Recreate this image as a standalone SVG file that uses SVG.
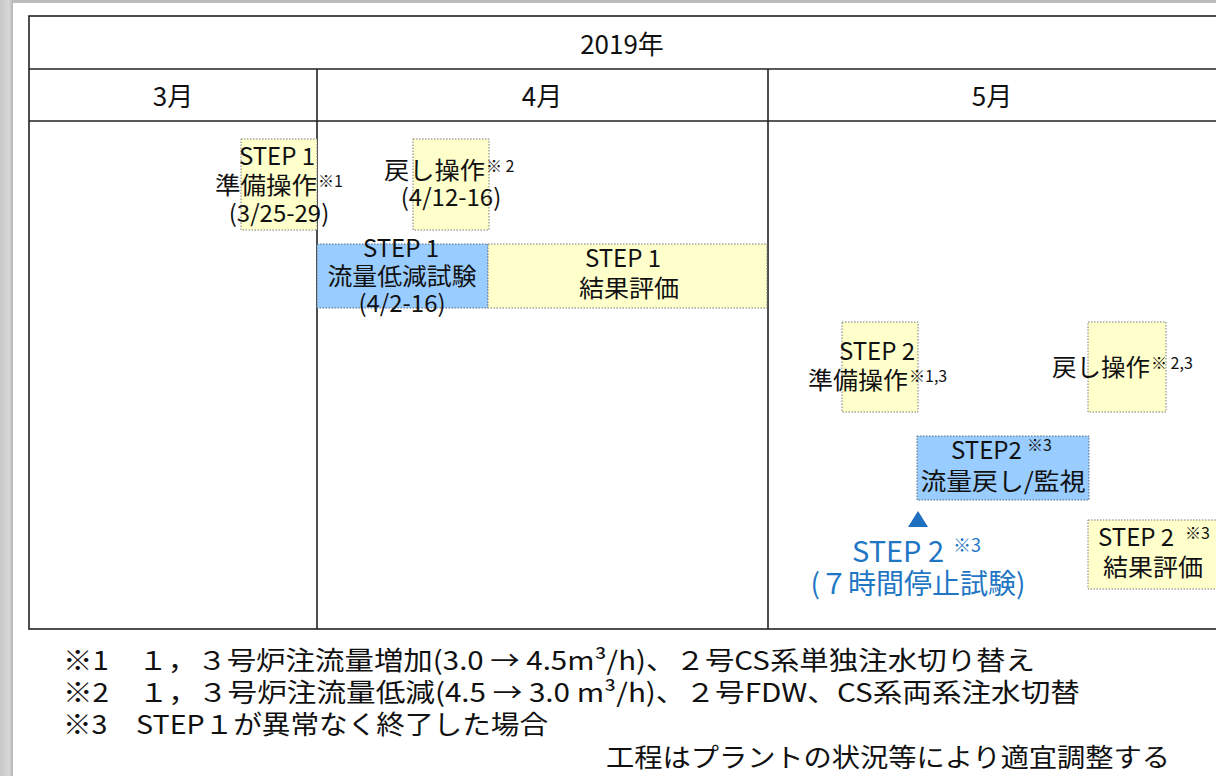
<svg xmlns="http://www.w3.org/2000/svg" width="1216" height="776" viewBox="0 0 1216 776">
<defs>
<linearGradient id="lg" x1="0" y1="0" x2="1" y2="0">
<stop offset="0" stop-color="#c8c8c8"/>
<stop offset="0.7" stop-color="#d8d8d8"/>
<stop offset="1" stop-color="#b4b4b4"/>
</linearGradient>
<style>
text{font-family:"Noto Sans CJK JP","Noto Sans",sans-serif;fill:#111}
.t{font-size:24px}
.h{font-size:26px}
.s{font-size:16px}
.f{font-size:26px}
.b{fill:#1f77c4}
.yel{fill:#ffffcc;stroke:#7a7a7a;stroke-width:1;stroke-dasharray:1.5 1.5}
.blu{fill:#99ccff;stroke:#5a6a80;stroke-width:1;stroke-dasharray:1.5 1.5}
.ln{stroke:#222;stroke-width:1.6;fill:none}
</style>
</defs>
<rect x="0" y="0" width="1216" height="776" fill="#fff"/>
<rect x="0" y="0" width="1216" height="3" fill="#bdbdbd"/>
<rect x="0" y="0" width="13" height="776" fill="url(#lg)"/>

<g id="table">
<rect class="ln" x="29" y="16" width="1200" height="613"/>
<line class="ln" x1="29" y1="69" x2="1229" y2="69"/>
<line class="ln" x1="29" y1="121" x2="1229" y2="121"/>
<line class="ln" x1="317" y1="69" x2="317" y2="629"/>
<line class="ln" x1="768" y1="69" x2="768" y2="629"/>
<text class="h" x="622" y="54" text-anchor="middle">2019年</text>
<text class="h" x="173" y="106" text-anchor="middle">3月</text>
<text class="h" x="542" y="106" text-anchor="middle">4月</text>
<text class="h" x="992" y="106" text-anchor="middle">5月</text>
</g>

<g id="step1-prep">
<rect class="yel" x="241" y="139" width="76" height="91"/>
<text class="t" x="277" y="165" text-anchor="middle">STEP 1</text>
<text class="t" x="215" y="194" textLength="102" lengthAdjust="spacingAndGlyphs">準備操作</text>
<text class="s" x="318" y="187">※1</text>
<text class="t" x="279" y="222" text-anchor="middle">(3/25-29)</text>
</g>

<g id="return-op1">
<rect class="yel" x="413" y="139" width="76" height="91"/>
<text class="t" x="384" y="179" textLength="101" lengthAdjust="spacingAndGlyphs">戻し操作</text>
<text class="s" x="486" y="172">※ 2</text>
<text class="t" x="451" y="206" text-anchor="middle">(4/12-16)</text>
</g>

<g id="step1-test">
<rect class="blu" x="317" y="244" width="171" height="64"/>
<text class="t" x="401" y="257" text-anchor="middle">STEP 1</text>
<text class="t" x="402" y="285" text-anchor="middle" textLength="149" lengthAdjust="spacingAndGlyphs">流量低減試験</text>
<text class="t" x="402" y="312" text-anchor="middle">(4/2-16)</text>
</g>

<g id="step1-eval">
<rect class="yel" x="488" y="244" width="279" height="64"/>
<text class="t" x="623" y="267" text-anchor="middle">STEP 1</text>
<text class="t" x="629" y="297" text-anchor="middle" textLength="100" lengthAdjust="spacingAndGlyphs">結果評価</text>
</g>

<g id="step2-prep">
<rect class="yel" x="842" y="322" width="76" height="90"/>
<text class="t" x="877" y="360" text-anchor="middle">STEP 2</text>
<text class="t" x="808" y="389" textLength="100" lengthAdjust="spacingAndGlyphs">準備操作</text>
<text class="s" x="909" y="382">※1,3</text>
</g>

<g id="return-op2">
<rect class="yel" x="1088" y="322" width="78" height="90"/>
<text class="t" x="1052" y="376" textLength="98" lengthAdjust="spacingAndGlyphs">戻し操作</text>
<text class="s" x="1151" y="369">※ 2,3</text>
</g>

<g id="step2-monitor">
<rect class="blu" x="917" y="436" width="172" height="64"/>
<text class="t" x="951" y="459">STEP2</text>
<text class="s" x="1027" y="451">※3</text>
<text class="t" x="1003" y="490" text-anchor="middle" textLength="165" lengthAdjust="spacingAndGlyphs">流量戻し/監視</text>
</g>

<g id="step2-stop">
<polygon points="918,511 908,527 928,527" fill="#1f6fbf"/>
<text class="b" font-size="29" x="852" y="562">STEP 2</text>
<text class="b" font-size="18" x="953" y="552">※3</text>
<text class="b" font-size="28" x="918" y="594" text-anchor="middle">(７時間停止試験)</text>
</g>

<g id="step2-eval">
<rect class="yel" x="1088" y="520" width="140" height="69"/>
<text class="t" x="1098" y="546">STEP 2</text>
<text class="s" x="1185" y="539">※3</text>
<text class="t" x="1153" y="576" text-anchor="middle" textLength="100" lengthAdjust="spacingAndGlyphs">結果評価</text>
</g>

<g id="connectors"></g>

<g id="notes">
<text class="f" x="63" y="670" textLength="972" lengthAdjust="spacingAndGlyphs">※1　１，３号炉注流量増加(3.0 → 4.5m³/h)、２号CS系単独注水切り替え</text>
<text class="f" x="63" y="702" textLength="1017" lengthAdjust="spacingAndGlyphs">※2　１，３号炉注流量低減(4.5 → 3.0 m³/h)、２号FDW、CS系両系注水切替</text>
<text class="f" x="63" y="734" textLength="485" lengthAdjust="spacingAndGlyphs">※3　STEP１が異常なく終了した場合</text>
<text class="f" x="606" y="767" textLength="564" lengthAdjust="spacingAndGlyphs">工程はプラントの状況等により適宜調整する</text>
</g>
</svg>
